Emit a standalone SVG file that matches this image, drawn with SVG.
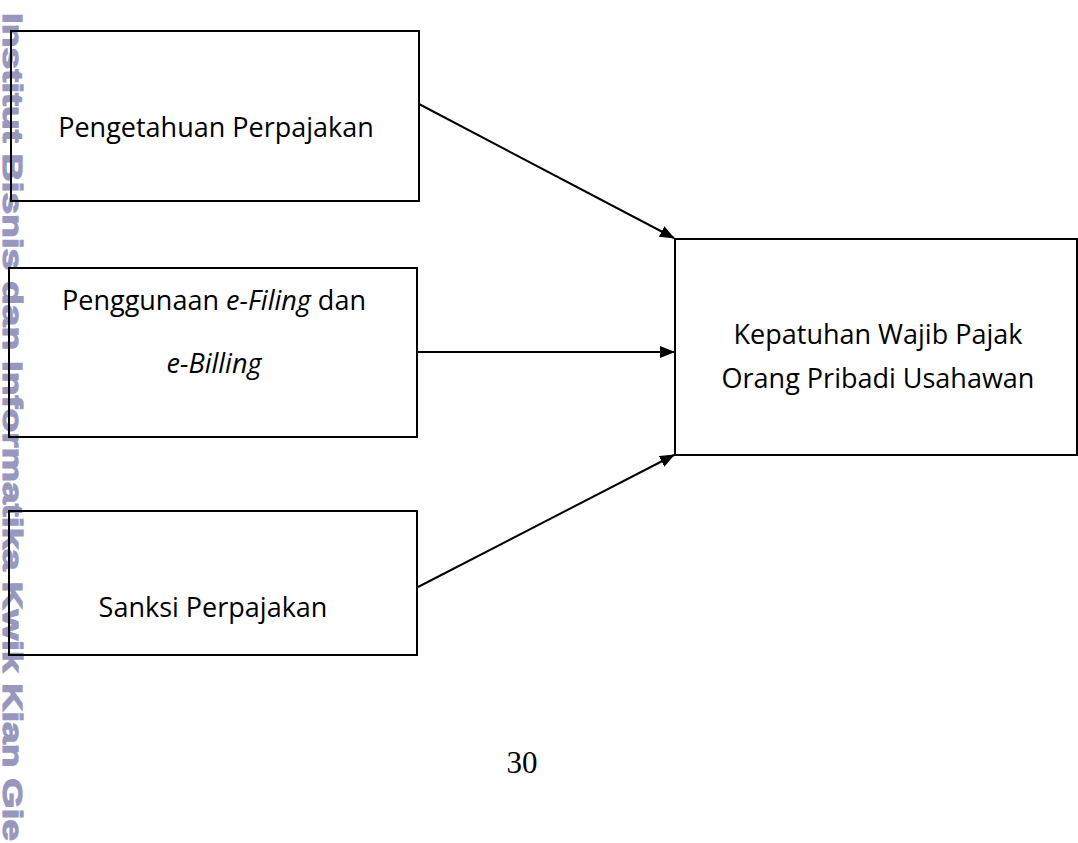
<svg xmlns="http://www.w3.org/2000/svg" width="1078" height="843" viewBox="0 0 1078 843">
<style>
.box{fill:none;stroke:#000;stroke-width:2}
.lbl{font-family:"Open Sans","Noto Sans",sans-serif;font-size:27px;fill:#000;text-anchor:middle}
.it{font-style:italic}
.conn{stroke:#000;stroke-width:2;fill:none}
.wm{font-family:"Liberation Sans",Arial,sans-serif;font-weight:bold;font-size:28px;fill:#9898be;stroke:#9898be;stroke-width:1.2}
.pg{font-family:"Liberation Serif","Times New Roman",serif;font-size:31px;fill:#000;text-anchor:middle}
</style>
<defs>
<marker id="ah" markerWidth="15" markerHeight="12" refX="14" refY="6" orient="auto" markerUnits="userSpaceOnUse" viewBox="0 0 15 12">
<path d="M0,0 L15,6 L0,12 z" fill="#000"/>
</marker>
</defs>
<rect width="1078" height="843" fill="#fff"/>
<text class="wm" transform="translate(3,13) rotate(90)" textLength="828" lengthAdjust="spacingAndGlyphs">Institut Bisnis dan Informatika Kwik Kian Gie</text>
<g id="connectors">
<line class="conn" x1="419" y1="104" x2="674" y2="238" marker-end="url(#ah)"/>
<line class="conn" x1="418" y1="352" x2="674" y2="352" marker-end="url(#ah)"/>
<line class="conn" x1="418" y1="587" x2="674" y2="455" marker-end="url(#ah)"/>
</g>
<g id="node-pengetahuan">
<rect class="box" x="11" y="31" width="408" height="170"/>
<text class="lbl" x="216" y="137">Pengetahuan Perpajakan</text>
</g>
<g id="node-penggunaan">
<rect class="box" x="9" y="268" width="408" height="169"/>
<text class="lbl" x="214" y="310">Penggunaan <tspan class="it">e-Filing</tspan> dan</text>
<text class="lbl it" x="214" y="373">e-Billing</text>
</g>
<g id="node-sanksi">
<rect class="box" x="9" y="511" width="408" height="144"/>
<text class="lbl" x="213" y="617">Sanksi Perpajakan</text>
</g>
<g id="node-kepatuhan">
<rect class="box" x="675" y="239" width="402" height="216"/>
<text class="lbl" x="878" y="344">Kepatuhan Wajib Pajak</text>
<text class="lbl" x="878" y="388">Orang Pribadi Usahawan</text>
</g>
<text class="pg" x="522" y="773">30</text>
</svg>
